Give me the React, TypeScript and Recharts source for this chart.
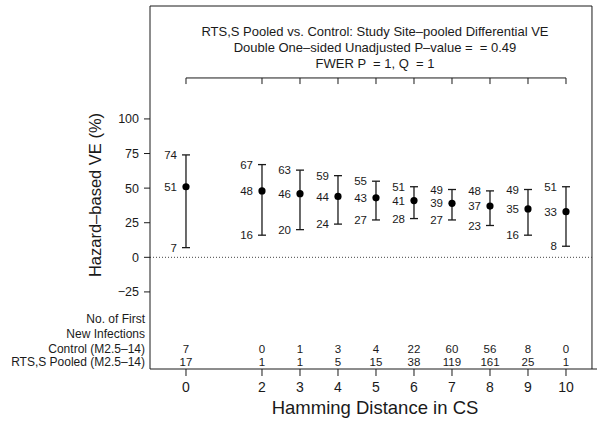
import { ComposedChart, Scatter, XAxis, YAxis, ErrorBar, ReferenceLine } from "recharts";

// Hamming distance bins and hazard-based VE estimates (%)
const DISTANCES = [0, 2, 3, 4, 5, 6, 7, 8, 9, 10];
const VE_EST = [51, 48, 46, 44, 43, 41, 39, 37, 35, 33];
const VE_LOWER = [7, 16, 20, 24, 27, 28, 27, 23, 16, 8];
const VE_UPPER = [74, 67, 63, 59, 55, 51, 49, 48, 49, 51];
const N_CONTROL = [7, 0, 1, 3, 4, 22, 60, 56, 8, 0];
const N_RTSS = [17, 1, 1, 5, 15, 38, 119, 161, 25, 1];
const Y_TICKS = [-25, 0, 25, 50, 75, 100];

const TITLE_LINES = [
  "RTS,S Pooled vs. Control: Study Site\u2013pooled Differential VE",
  "Double One\u2013sided Unadjusted P\u2013value =  = 0.49",
  "FWER P  = 1, Q  = 1",
];
const TABLE_LABELS = ["No. of First", "New Infections", "Control (M2.5\u201314)", "RTS,S Pooled (M2.5\u201314)"];

// axis ranges (R-style padded limits)
const X_DOMAIN: [number, number] = [-0.947, 10.816];
const X_BOX_RIGHT = 10.684;
const Y_DOMAIN: [number, number] = [-80.7, 181.6];
const BRACKET_Y = 129.6;
const BRACKET_TICK = 125.2;

const INK = "#1a1a1a";
const FONT = '"Liberation Sans", Arial, Helvetica, sans-serif';

const rows = DISTANCES.map((d, i) => ({
  d,
  est: VE_EST[i],
  lower: VE_LOWER[i],
  upper: VE_UPPER[i],
  err: [VE_EST[i] - VE_LOWER[i], VE_UPPER[i] - VE_EST[i]],
}));

const EstShape = (p: any) => (
  <g>
    <circle cx={p.cx} cy={p.cy} r={3.6} fill="#000" />
    <text x={p.cx - 9} y={p.cy} dy="0.36em" textAnchor="end" fontSize={11.5} fill={INK}>
      {p.payload.est}
    </text>
  </g>
);

const BoundLabel = (key: "upper" | "lower") => (p: any) => (
  <text x={p.cx - 9} y={p.cy} dy="0.36em" textAnchor="end" fontSize={11.5} fill={INK}>
    {p.payload[key]}
  </text>
);

const XTick = (p: any) => {
  const v = p.payload.value;
  const i = DISTANCES.indexOf(v);
  return (
    <g fill={INK}>
      <text x={p.x} y={p.y} dy={14} textAnchor="middle" fontSize={14}>{v}</text>
      {i >= 0 && (
        <>
          <text x={p.x} y={p.y} dy={-25} textAnchor="middle" fontSize={11.5}>{N_CONTROL[i]}</text>
          <text x={p.x} y={p.y} dy={-12} textAnchor="middle" fontSize={11.5}>{N_RTSS[i]}</text>
        </>
      )}
    </g>
  );
};

const abs = (extra: any) => ({ position: "absolute" as const, whiteSpace: "pre" as const, color: INK, ...extra });

export default function App() {
  return (
    <div style={{ position: "absolute", left: 0, top: 0, width: 597, height: 421, background: "#fff", fontFamily: FONT }}>
      <ComposedChart width={597} height={421} data={rows} margin={{ top: 6, right: 0, left: 90, bottom: 0 }}>
        <XAxis
          type="number"
          dataKey="d"
          domain={X_DOMAIN}
          ticks={DISTANCES}
          allowDataOverflow
          height={52}
          tickSize={7}
          tickMargin={2}
          stroke={INK}
          tick={<XTick />}
          interval={0}
        />
        <YAxis
          type="number"
          domain={Y_DOMAIN}
          ticks={Y_TICKS}
          allowDataOverflow
          width={60}
          tickSize={6}
          tickMargin={5}
          stroke={INK}
          tick={{ fontSize: 12.5, fill: INK }}
          tickFormatter={(v: number) => (v < 0 ? `\u2212${-v}` : `${v}`)}
          interval={0}
        />
        {/* plot box */}
        <ReferenceLine ifOverflow="visible" stroke={INK} segment={[{ x: X_DOMAIN[0], y: Y_DOMAIN[1] }, { x: X_BOX_RIGHT, y: Y_DOMAIN[1] }]} />
        <ReferenceLine ifOverflow="visible" stroke={INK} segment={[{ x: X_BOX_RIGHT, y: Y_DOMAIN[0] }, { x: X_BOX_RIGHT, y: Y_DOMAIN[1] }]} />
        <ReferenceLine ifOverflow="visible" stroke="#444" strokeDasharray="1 2" segment={[{ x: X_DOMAIN[0], y: 0 }, { x: X_BOX_RIGHT, y: 0 }]} />
        {/* bracket under the title */}
        <ReferenceLine ifOverflow="visible" stroke={INK} segment={[{ x: DISTANCES[0], y: BRACKET_Y }, { x: DISTANCES[DISTANCES.length - 1], y: BRACKET_Y }]} />
        {DISTANCES.map((d) => (
          <ReferenceLine key={d} ifOverflow="visible" stroke={INK} segment={[{ x: d, y: BRACKET_Y }, { x: d, y: BRACKET_TICK }]} />
        ))}
        <Scatter dataKey="upper" shape={BoundLabel("upper")} isAnimationActive={false} />
        <Scatter dataKey="lower" shape={BoundLabel("lower")} isAnimationActive={false} />
        <Scatter dataKey="est" shape={EstShape} isAnimationActive={false}>
          <ErrorBar dataKey="err" direction="y" width={4} stroke={INK} strokeWidth={1.3} isAnimationActive={false} />
        </Scatter>
      </ComposedChart>

      {TITLE_LINES.map((t, i) => (
        <div key={t} style={abs({ left: 175, width: 400, top: 32 + 16 * i - 8, lineHeight: "16px", fontSize: 13, textAlign: "center" })}>
          {t}
        </div>
      ))}
      {TABLE_LABELS.map((t, i) => (
        <div key={t} style={abs({ left: 0, width: 145, top: [319, 334, 349, 362][i] - 7, lineHeight: "14px", fontSize: 12, textAlign: "right" })}>
          {t}
        </div>
      ))}
      <div style={abs({ left: 95 - 100, top: 195 - 10, width: 200, lineHeight: "20px", fontSize: 16.5, textAlign: "center", transform: "rotate(-90deg)" })}>
        Hazard&#8211;based VE (%)
      </div>
      <div style={abs({ left: 175, top: 408 - 11, width: 400, lineHeight: "22px", fontSize: 18.5, textAlign: "center" })}>
        Hamming Distance in CS
      </div>
    </div>
  );
}
